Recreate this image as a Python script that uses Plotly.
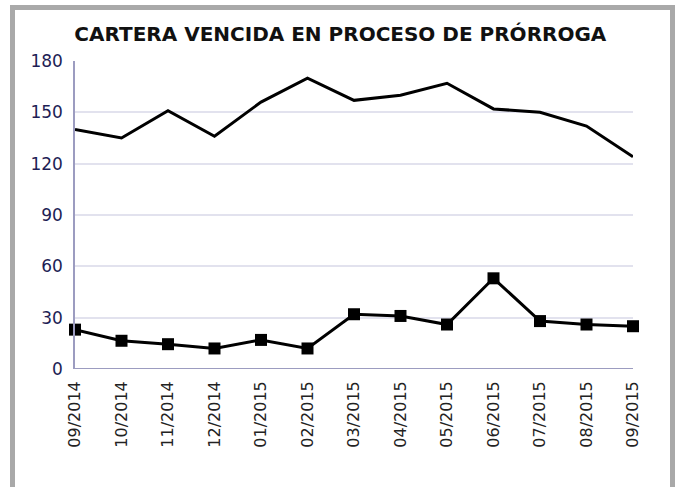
import plotly.graph_objects as go

months = ["09/2014", "10/2014", "11/2014", "12/2014", "01/2015", "02/2015", "03/2015",
          "04/2015", "05/2015", "06/2015", "07/2015", "08/2015", "09/2015"]
total_values = [140, 135, 151, 136, 156, 170, 157, 160, 167, 152, 150, 142, 124]
prorroga_values = [23, 16.5, 14.5, 12, 17, 12, 32, 31, 26, 53, 28, 26, 25]
y_ticks = [0, 30, 60, 90, 120, 150, 180]
title_text = "CARTERA VENCIDA EN PROCESO DE PRÓRROGA"

W, H = 678, 487
L, R, T, B = 75, 45, 61, 118
pw, ph = W - L - R, H - T - B

def px_x(v):
    return (v - L) / pw

def px_y(v):
    return (H - B - v) / ph

fig = go.Figure()
fig.add_trace(go.Scatter(x=list(range(len(months))), y=total_values, mode="lines",
                         line=dict(color="#000000", width=3), showlegend=False))
fig.add_trace(go.Scatter(x=list(range(len(months))), y=prorroga_values, mode="lines+markers",
                         line=dict(color="#000000", width=3),
                         marker=dict(symbol="square", size=12, color="#000000"),
                         showlegend=False, cliponaxis=False))

frame = "#a9a9a9"
shapes = [
    dict(type="rect", xref="paper", yref="paper", x0=px_x(10), x1=px_x(15), y0=px_y(487), y1=px_y(5),
         fillcolor=frame, line_width=0, layer="below"),
    dict(type="rect", xref="paper", yref="paper", x0=px_x(10), x1=px_x(675), y0=px_y(10), y1=px_y(5),
         fillcolor=frame, line_width=0, layer="below"),
    dict(type="rect", xref="paper", yref="paper", x0=px_x(670), x1=px_x(675), y0=px_y(487), y1=px_y(5),
         fillcolor=frame, line_width=0, layer="below"),
]

fig.update_layout(
    width=W, height=H,
    margin=dict(l=L, r=R, t=T, b=B, autoexpand=False),
    paper_bgcolor="#ffffff", plot_bgcolor="#ffffff",
    title=dict(text=title_text, x=0.502, xanchor="center", y=1 - 33.5 / H, yanchor="middle",
               font=dict(family="DejaVu Sans", size=20, color="#111111", weight="bold")),
    xaxis=dict(tickmode="array", tickvals=list(range(len(months))), ticktext=months,
               range=[0, len(months) - 1], tickangle=-90, showgrid=False, zeroline=False,
               showline=False, ticks="", ticklabelstandoff=8,
               tickfont=dict(family="DejaVu Sans", size=16, color="#222222")),
    yaxis=dict(tickmode="array", tickvals=y_ticks, range=[0, 180], showgrid=True,
               gridcolor="#e2e2ee", gridwidth=1.5, zeroline=False, showline=True,
               linecolor="#9c9cc0", linewidth=1.5, ticks="", ticklabelstandoff=7,
               tickfont=dict(family="DejaVu Sans", size=17, color="#1e1e55")),
    shapes=shapes,
)
fig.add_hline(y=0, line=dict(color="#9c9cc0", width=2), layer="below")

fig.write_html("out.html", config={"displayModeBar": False},
               post_script="document.body.style.margin='0px';")
